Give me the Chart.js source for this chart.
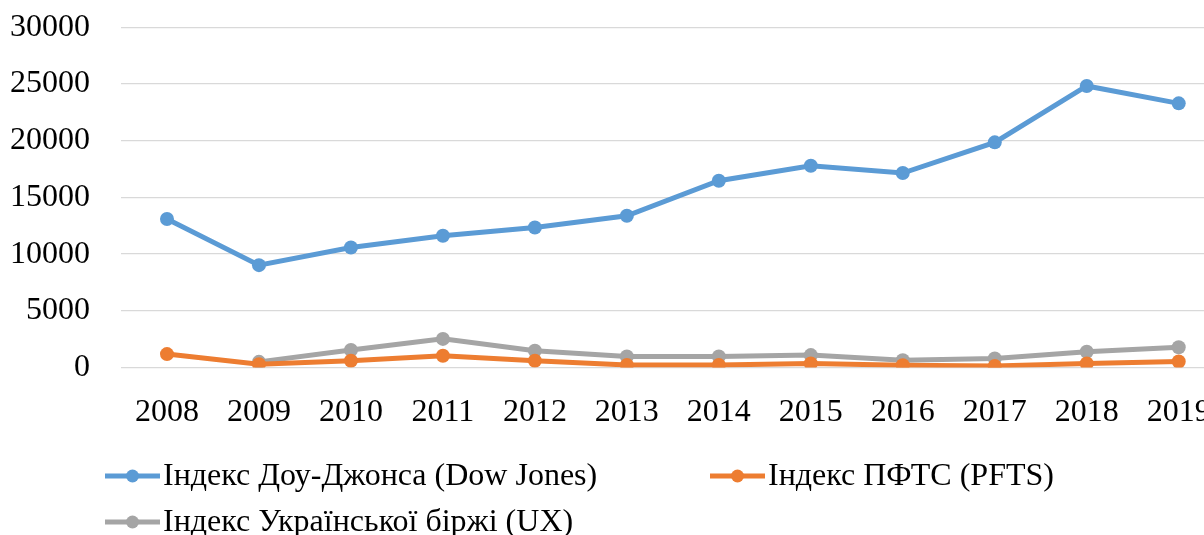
<!DOCTYPE html>
<html>
<head>
<meta charset="utf-8">
<script src="https://cdn.jsdelivr.net/npm/chart.js@4/dist/chart.umd.min.js"></script>
<style>
    html, body { margin: 0; padding: 0; background: #fff; overflow: hidden; }
    /* canvas is shifted so the plot can run to the right edge like the original */
    #wrap { position: absolute; left: -31px; top: -23px; width: 1268px; height: 558px; }
</style>
</head>
<body>
<div id="wrap"><canvas id="indexChart"></canvas></div>
<script>
const years = ['2008', '2009', '2010', '2011', '2012', '2013', '2014', '2015', '2016', '2017', '2018', '2019'];
const dowJones = [13090, 9030, 10590, 11620, 12350, 13380, 16470, 17790, 17150, 19850, 24820, 23290];
const pfts = [1190, 300, 600, 1040, 600, 240, 240, 360, 210, 150, 360, 540];
const ux = [null, 506, 1550, 2530, 1490, 980, 980, 1100, 650, 800, 1400, 1790];
const seriesLabels = [
    'Індекс Доу-Джонса (Dow Jones)',
    'Індекс ПФТС (PFTS)',
    'Індекс Української біржі (UX)'
];
const seriesColors = ['#5B9BD5', '#ED7D31', '#A5A5A5'];
const yMin = 0;
const yMax = 30000;
const yStep = 5000;

const FONT = '"Liberation Serif", "Times New Roman", serif';
const FONT_SIZE = 32;
const SHIFT_X = 31;
const SHIFT_Y = 23;

const makeSeries = (label, values, color) => ({
    label: label,
    data: values,
    borderColor: color,
    backgroundColor: color,
    borderWidth: 5,
    pointRadius: 7,
    pointHoverRadius: 7,
    pointBorderWidth: 0,
    tension: 0,
    spanGaps: false
});

// legend drawn in two columns like the Excel original
const legendPlugin = {
    id: 'excelLegend',
    afterDraw(chart) {
        const ctx = chart.ctx;
        const colX = [105, 710];
        const rowY = [476, 522];
        chart.data.datasets.forEach((ds, i) => {
            const x0 = colX[i % 2] + SHIFT_X;
            const y = rowY[Math.floor(i / 2)] + SHIFT_Y;
            ctx.save();
            ctx.strokeStyle = ds.borderColor;
            ctx.lineWidth = 5;
            ctx.beginPath();
            ctx.moveTo(x0, y);
            ctx.lineTo(x0 + 55, y);
            ctx.stroke();
            ctx.fillStyle = ds.borderColor;
            ctx.beginPath();
            ctx.arc(x0 + 27.5, y, 6.5, 0, Math.PI * 2);
            ctx.fill();
            ctx.fillStyle = '#000';
            ctx.font = FONT_SIZE + 'px ' + FONT;
            ctx.textBaseline = 'middle';
            ctx.textAlign = 'left';
            ctx.fillText(ds.label, x0 + 58, y + 1);
            ctx.restore();
        });
    }
};

const ctx = document.getElementById('indexChart').getContext('2d');
new Chart(ctx, {
    type: 'line',
    data: {
        labels: years,
        datasets: [
            makeSeries(seriesLabels[0], dowJones, seriesColors[0]),
            makeSeries(seriesLabels[1], pfts, seriesColors[1]),
            makeSeries(seriesLabels[2], ux, seriesColors[2])
        ]
    },
    options: {
        responsive: true,
        maintainAspectRatio: false,
        animation: false,
        layout: { padding: { left: 10, top: 0, right: 0, bottom: 77 } },
        plugins: {
            legend: { display: false },
            tooltip: { enabled: false }
        },
        scales: {
            x: {
                offset: true,
                grid: { display: false, drawTicks: false },
                border: { display: false },
                ticks: {
                    color: '#000',
                    padding: 26,
                    maxRotation: 0,
                    autoSkip: false,
                    font: { family: FONT, size: FONT_SIZE }
                }
            },
            y: {
                min: yMin,
                max: yMax,
                grid: { color: '#D9D9D9', lineWidth: 1.3, drawTicks: false },
                border: { display: false },
                ticks: {
                    stepSize: yStep,
                    color: '#000',
                    padding: 31,
                    font: { family: FONT, size: FONT_SIZE },
                    callback: (value) => String(value)
                }
            }
        }
    },
    plugins: [legendPlugin]
});
</script>
</body>
</html>
